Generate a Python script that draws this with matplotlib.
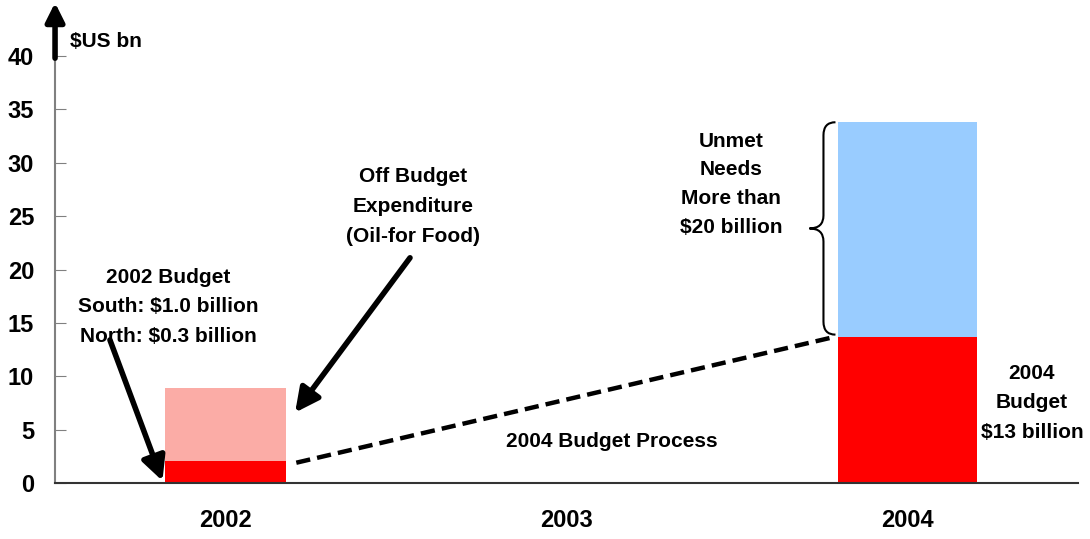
import numpy as np
import matplotlib.pyplot as plt
from matplotlib.path import Path
from matplotlib.patches import PathPatch

plt.rcParams['font.family'] = ['Liberation Sans', 'DejaVu Sans']
plt.rcParams['font.weight'] = 'bold'

# Data
years = ['2002', '2003', '2004']
budget = [2.1, 0.0, 13.7]          # red segment
off_budget = [6.8, 0.0, 0.0]       # pink segment (oil-for-food)
unmet = [0.0, 0.0, 20.1]           # blue segment
bar_widths = [0.355, 0.0, 0.405]

RED = '#ff0000'
PINK = '#fbaca6'
BLUE = '#99ccff'

fig = plt.figure(figsize=(10.9, 5.39), dpi=100)
ax = fig.add_axes([0.0505, 0.1039, 0.9385, 0.7921])

x = np.arange(len(years))
ax.bar(x, budget, width=bar_widths, color=RED, zorder=2)
ax.bar(x, off_budget, width=bar_widths, bottom=budget, color=PINK, zorder=1)
ax.bar(x, unmet, width=bar_widths, bottom=np.array(budget) + np.array(off_budget),
       color=BLUE, zorder=1)

ax.set_xlim(-0.5, 2.5)
ax.set_ylim(0, 40)
ax.set_yticks(np.arange(0, 41, 5))
ax.set_xticks(x)
ax.set_xticklabels(years, fontsize=17, fontweight='bold')
ax.tick_params(axis='x', length=0, pad=19)
ax.tick_params(axis='y', direction='in', length=8, labelsize=17, pad=15, color='#808080')
for lbl in ax.get_yticklabels():
    lbl.set_fontweight('bold')

for s in ['top', 'right']:
    ax.spines[s].set_visible(False)
ax.spines['left'].set_color('#808080')
ax.spines['left'].set_linewidth(1.5)
ax.spines['bottom'].set_color('#333333')
ax.spines['bottom'].set_linewidth(1.5)

# axis arrow and unit label
ax.annotate('', xy=(0, 1.125), xytext=(0, 0.995), xycoords='axes fraction',
            arrowprops=dict(arrowstyle='-|>', lw=4, color='black', mutation_scale=28,
                            shrinkA=0, shrinkB=0),
            annotation_clip=False)
ax.text(0.015, 1.035, '$US bn', transform=ax.transAxes, fontsize=15, fontweight='bold',
        va='center', ha='left')

# dashed budget process line
x0 = x[0] + bar_widths[0] / 2 + 0.03
x1 = x[2] - bar_widths[2] / 2 - 0.01
ax.plot([x0, x1], [budget[0] - 0.2, budget[2]], ls=(0, (3.2, 1.6)), lw=3.2, color='black', zorder=3)
ax.text(1.133, 3.9, '2004 Budget Process', ha='center', va='center', fontsize=15, fontweight='bold')

arrow_kw = dict(arrowstyle='-|>', lw=4, color='black', mutation_scale=36,
                shrinkA=0, shrinkB=0)
ax.annotate('', xy=(-0.185, 0.2), xytext=(-0.339, 13.4), arrowprops=arrow_kw)
ax.annotate('', xy=(0.204, 6.6), xytext=(0.541, 21.1), arrowprops=arrow_kw)

ax.text(-0.169, 16.5, '2002 Budget\nSouth: $1.0 billion\nNorth: $0.3 billion',
        ha='center', va='center', fontsize=15, fontweight='bold', linespacing=1.7)
ax.text(0.55, 25.9, 'Off Budget\nExpenditure\n(Oil-for Food)',
        ha='center', va='center', fontsize=15, fontweight='bold', linespacing=1.75)
ax.text(1.482, 28.0, 'Unmet\nNeeds\nMore than\n$20 billion',
        ha='center', va='center', fontsize=15, fontweight='bold', linespacing=1.65)
ax.text(2.365, 7.5, '2004\nBudget\n$13 billion',
        ha='center', va='center', fontsize=15, fontweight='bold', linespacing=1.7)

# curly brace next to unmet needs
px, py = 1 / 341.0, 1 / 10.675
xr = x[2] - bar_widths[2] / 2 - 3 * px
yb = budget[2] + 0.2
yt = budget[2] + unmet[2]
ym = (yb + yt) / 2
xv = xr - 12 * px
xt = xr - 26 * px
c = 13 * py
verts = [(xr, yt), (xv, yt), (xv, yt - c),
         (xv, ym + c),
         (xv, ym), (xt, ym),
         (xv, ym), (xv, ym - c),
         (xv, yb + c),
         (xv, yb), (xr, yb)]
codes = [Path.MOVETO, Path.CURVE3, Path.CURVE3,
         Path.LINETO,
         Path.CURVE3, Path.CURVE3,
         Path.CURVE3, Path.CURVE3,
         Path.LINETO,
         Path.CURVE3, Path.CURVE3]
ax.add_patch(PathPatch(Path(verts, codes), fill=False, lw=1.5, color='black'))

fig.savefig('out.png', dpi=100)
